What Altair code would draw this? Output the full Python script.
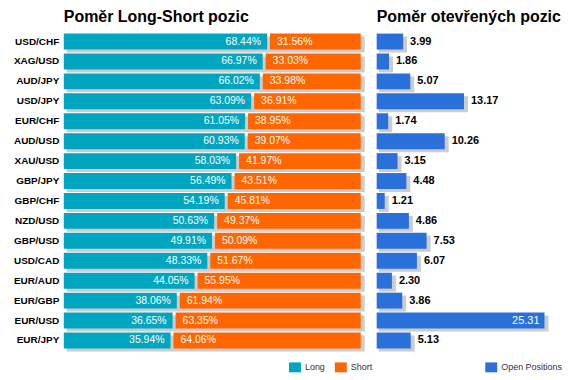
import altair as alt
import pandas as pd

pairs = ["USD/CHF", "XAG/USD", "AUD/JPY", "USD/JPY", "EUR/CHF", "AUD/USD", "XAU/USD", "GBP/JPY",
         "GBP/CHF", "NZD/USD", "GBP/USD", "USD/CAD", "EUR/AUD", "EUR/GBP", "EUR/USD", "EUR/JPY"]
long_pct = [68.44, 66.97, 66.02, 63.09, 61.05, 60.93, 58.03, 56.49,
            54.19, 50.63, 49.91, 48.33, 44.05, 38.06, 36.65, 35.94]
short_pct = [31.56, 33.03, 33.98, 36.91, 38.95, 39.07, 41.97, 43.51,
             45.81, 49.37, 50.09, 51.67, 55.95, 61.94, 63.35, 64.06]
open_pos = [3.99, 1.86, 5.07, 13.17, 1.74, 10.26, 3.15, 4.48,
            1.21, 4.86, 7.53, 6.07, 2.30, 3.86, 25.31, 5.13]

FONT = "Liberation Sans"
TEAL = "#00A6C0"
ORANGE = "#FF6600"
BLUE = "#2A70DA"
SHADOW = "#CCCCCC"

df = pd.DataFrame({"pair": pairs, "long": long_pct, "short": short_pct, "open": open_pos})
df["zero"] = 0
df["full"] = 100
df["series"] = "Open Positions"

ls = pd.concat([
    pd.DataFrame({"pair": pairs, "type": "Long", "start": 0, "end": long_pct}),
    pd.DataFrame({"pair": pairs, "type": "Short", "start": long_pct, "end": 100}),
])

H = 320
yscale = alt.Scale(paddingInner=0.2, paddingOuter=0.1)
y_left = alt.Y("pair:N", sort=pairs, title=None, scale=yscale,
               axis=alt.Axis(labelFont=FONT, labelFontSize=10, labelFontWeight="bold",
                             labelColor="#000000", labelPadding=5, ticks=False, domain=False, grid=False))
y_right = alt.Y("pair:N", sort=pairs, title=None, scale=yscale, axis=None)

xl = alt.Scale(domain=[0, 100], nice=False, zero=True)
xr = alt.Scale(domain=[0, 26], nice=False, zero=True)

sym = "M-1,-0.83H1V0.83H-1Z"

color_l = alt.Color("type:N", scale=alt.Scale(domain=["Long", "Short"], range=[TEAL, ORANGE]),
                    legend=alt.Legend(title=None, orient="none", legendX=226, legendY=331,
                                      direction="horizontal", symbolType=sym, symbolSize=144,
                                      symbolStrokeWidth=0, labelFont=FONT, labelFontSize=9,
                                      labelColor="#333333", columnPadding=9, labelOffset=4))
color_r = alt.Color("series:N", scale=alt.Scale(domain=["Open Positions"], range=[BLUE]),
                    legend=alt.Legend(title=None, orient="none", legendX=109, legendY=331,
                                      direction="horizontal", symbolType=sym, symbolSize=144,
                                      symbolStrokeWidth=0, labelFont=FONT, labelFontSize=9,
                                      labelColor="#333333", labelOffset=4))

shadow_l = alt.Chart(df).mark_bar(color=SHADOW, xOffset=3, x2Offset=4, yOffset=3).encode(
    x=alt.X("zero:Q", scale=xl, axis=None), x2="full:Q", y=y_left)
long_bar = alt.Chart(ls).transform_filter(alt.datum.type == "Long").mark_bar().encode(
    x=alt.X("start:Q", scale=xl, axis=None), x2="end:Q", y=y_left, color=color_l)
short_bar = alt.Chart(ls).transform_filter(alt.datum.type == "Short").mark_bar(xOffset=3).encode(
    x=alt.X("start:Q", scale=xl, axis=None), x2="end:Q", y=y_left, color=color_l)
long_txt = alt.Chart(df).transform_calculate(lab="format(datum.long, '.2f') + '%'").mark_text(
    align="right", dx=-6, color="white", font=FONT, fontSize=10.5, baseline="middle").encode(
    x=alt.X("long:Q", scale=xl, axis=None), y=y_left, text="lab:N")
short_txt = alt.Chart(df).transform_calculate(lab="format(datum.short, '.2f') + '%'").mark_text(
    align="left", dx=10, color="white", font=FONT, fontSize=10.5, baseline="middle").encode(
    x=alt.X("long:Q", scale=xl, axis=None), y=y_left, text="lab:N")

left = alt.layer(shadow_l, long_bar, short_bar, long_txt, short_txt).properties(
    width=298, height=H,
    title=alt.TitleParams("Poměr Long-Short pozic", anchor="start", frame="group", font=FONT,
                          fontSize=16, fontWeight="bold", offset=7, color="#000000"))

shadow_r = alt.Chart(df).mark_bar(color=SHADOW, xOffset=2, x2Offset=4, yOffset=3).encode(
    x=alt.X("zero:Q", scale=xr, axis=None), x2="open:Q", y=y_right)
open_bar = alt.Chart(df).mark_bar().encode(
    x=alt.X("zero:Q", scale=xr, axis=None), x2="open:Q", y=y_right, color=color_r)
open_txt_out = alt.Chart(df).transform_filter(alt.datum.open < 20).mark_text(
    align="left", dx=7, color="#000000", font=FONT, fontSize=11, fontWeight="bold", baseline="middle").encode(
    x=alt.X("open:Q", scale=xr, axis=None), y=y_right, text=alt.Text("open:Q", format=".2f"))
open_txt_in = alt.Chart(df).transform_filter(alt.datum.open >= 20).mark_text(
    align="right", dx=-5, color="white", font=FONT, fontSize=11, baseline="middle").encode(
    x=alt.X("open:Q", scale=xr, axis=None), y=y_right, text=alt.Text("open:Q", format=".2f"))

right = alt.layer(shadow_r, open_bar, open_txt_out, open_txt_in).properties(
    width=173, height=H,
    title=alt.TitleParams("Poměr otevřených pozic", anchor="start", frame="group", font=FONT,
                          fontSize=16, fontWeight="bold", offset=7, color="#000000"))

chart = alt.hconcat(left, right, spacing=4).resolve_scale(color="independent").configure_view(
    stroke=None).properties(padding={"left": 5, "top": 0, "right": 0, "bottom": 0}, background="white")

chart.save("out.html", embed_options={"renderer": "svg", "actions": False})
